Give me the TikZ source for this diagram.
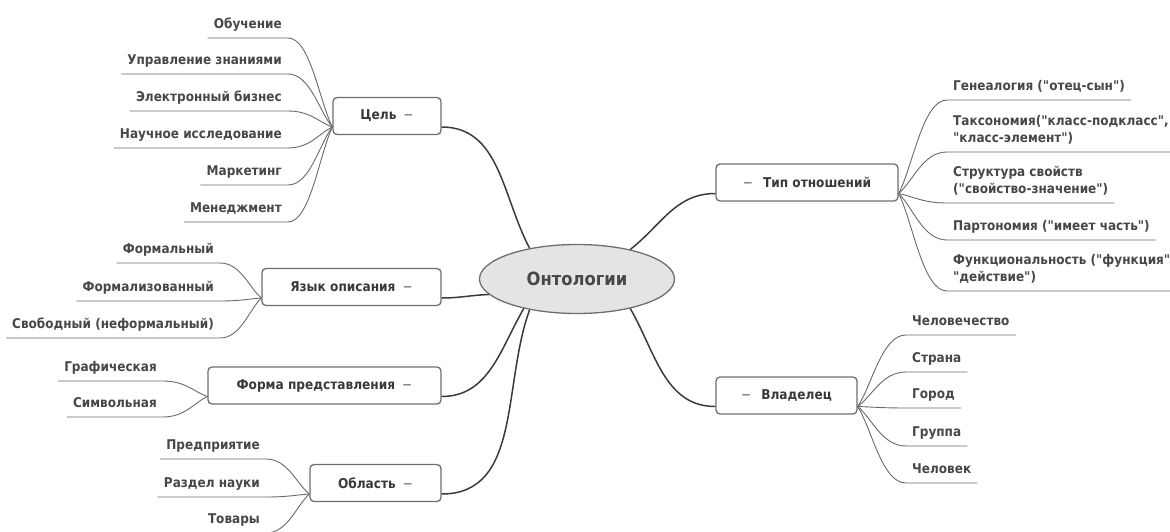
\documentclass[tikz,border=0pt]{standalone}
\usepackage{fontspec}
\setmainfont{DejaVu Sans Condensed}[Ligatures=TeXOff]
\usetikzlibrary{calc,shapes.geometric}

\definecolor{inkc}{HTML}{474747}
\definecolor{linec}{HTML}{3A3A3A}
\definecolor{twigc}{HTML}{6A6A6A}
\definecolor{boxc}{HTML}{6E6E6E}
\definecolor{rootc}{HTML}{E4E4E4}
\definecolor{foldc}{HTML}{8C8C8C}

\newcommand{\fold}{\textcolor{foldc}{−}}

\tikzset{
  root/.style={ellipse, draw=boxc, line width=1.3pt, fill=rootc, minimum width=195pt,
    minimum height=69pt, inner sep=0pt, text=inkc, font=\bfseries\fontsize{18.2}{21}\selectfont},
  topic/.style={draw=boxc, line width=1.3pt, rounded corners=4pt, fill=white, minimum height=37pt,
    inner sep=0pt, text=inkc!80!black, font=\bfseries\fontsize{13.5}{16}\selectfont},
  leaf/.style={inner xsep=6pt, inner ysep=9pt, text depth=0pt, text=inkc,
    font=\bfseries\fontsize{13.4}{17}\selectfont, align=left},
  leafl/.style={leaf, anchor=south east},
  leafr/.style={leaf, anchor=south west},
  trunk/.style={draw=linec, line width=1.5pt},
  twig/.style={draw=twigc, line width=0.9pt,
    to path={.. controls ($(\tikztostart)!0.3!(\tikztotarget)$) and
      ($(\tikztotarget)!0.5!(\tikztostart |- \tikztotarget)$) .. (\tikztotarget) \tikztonodes}},
}

\begin{document}
\begin{tikzpicture}[x=1pt,y=-1pt]
  \useasboundingbox (0,0) rectangle (1170,532);

  % main topic and branches
  \node[root] (onto) at (577,279) {Онтологии};

  \node[topic, minimum width=108pt] (aim)  at (387,116)   {Цель\hspace{7pt}\fold};
  \node[topic, minimum width=179pt] (lang) at (351.5,287) {Язык описания\hspace{7pt}\fold};
  \node[topic, minimum width=233pt] (form) at (324.5,385.5) {Форма представления\hspace{7pt}\fold};
  \node[topic, minimum width=131pt] (area) at (375.5,483) {Область\hspace{7pt}\fold};
  \node[topic, minimum width=182pt] (rel)  at (807,182.5) {\fold\hspace{10pt}Тип отношений};
  \node[topic, minimum width=141pt] (own)  at (786.5,395.5) {\fold\hspace{10pt}Владелец};

  \draw[trunk] (onto.147) to[out=118,in=0]   ([yshift=-11pt]aim.east);
  \draw[trunk] (onto.190) to[out=182,in=0]   ([yshift=-11pt]lang.east);
  \draw[trunk] (onto.209) to[out=240,in=0]   ([yshift=-11pt]form.east);
  \draw[trunk] (onto.213) to[out=250,in=0]   ([yshift=-11pt]area.east);
  \draw[trunk] (onto.29)  to[out=38,in=180]  ([yshift=-11pt]rel.west);
  \draw[trunk] (onto.331) to[out=300,in=180] ([yshift=-11pt]own.west);

  % Цель
  \node[leafl] (aim1) at (288,38)  {Обучение};
  \node[leafl] (aim2) at (288,74)  {Управление знаниями};
  \node[leafl] (aim3) at (288,111) {Электронный бизнес};
  \node[leafl] (aim4) at (288,148) {Научное исследование};
  \node[leafl] (aim5) at (288,185) {Маркетинг};
  \node[leafl] (aim6) at (288,222) {Менеджмент};
  \draw[twig] ([yshift=-11pt]aim.west) to (aim1.south east) -- (aim1.south west);
  \draw[twig] ([yshift=-11pt]aim.west) to (aim2.south east) -- (aim2.south west);
  \draw[twig] ([yshift=-11pt]aim.west) to (aim3.south east) -- (aim3.south west);
  \draw[twig] ([yshift=-11pt]aim.west) to (aim4.south east) -- (aim4.south west);
  \draw[twig] ([yshift=-11pt]aim.west) to (aim5.south east) -- (aim5.south west);
  \draw[twig] ([yshift=-11pt]aim.west) to (aim6.south east) -- (aim6.south west);

  % Язык описания
  \node[leafl] (lang1) at (220,263) {Формальный};
  \node[leafl] (lang2) at (220,301) {Формализованный};
  \node[leafl] (lang3) at (220,338) {Свободный (неформальный)};
  \draw[twig] ([yshift=-11pt]lang.west) to (lang1.south east) -- (lang1.south west);
  \draw[twig] ([yshift=-11pt]lang.west) to (lang2.south east) -- (lang2.south west);
  \draw[twig] ([yshift=-11pt]lang.west) to (lang3.south east) -- (lang3.south west);

  % Форма представления
  \node[leafl] (form1) at (163,381) {Графическая};
  \node[leafl] (form2) at (163,417) {Символьная};
  \draw[twig] ([yshift=-11pt]form.west) to (form1.south east) -- (form1.south west);
  \draw[twig] ([yshift=-11pt]form.west) to (form2.south east) -- (form2.south west);

  % Область
  \node[leafl] (area1) at (266,459) {Предприятие};
  \node[leafl] (area2) at (266,497) {Раздел науки};
  \node[leafl] (area3) at (266,533) {Товары};
  \draw[twig] ([yshift=-11pt]area.west) to (area1.south east) -- (area1.south west);
  \draw[twig] ([yshift=-11pt]area.west) to (area2.south east) -- (area2.south west);
  \draw[twig] ([yshift=-11pt]area.west) to (area3.south east) -- (area3.south west);

  % Тип отношений
  \node[leafr] (rel1) at (947,100) {Генеалогия ("отец-сын")};
  \node[leafr] (rel2) at (947,152) {Таксономия("класс-подкласс",\\"класс-элемент")};
  \node[leafr] (rel3) at (947,203) {Структура свойств\\("свойство-значение")};
  \node[leafr] (rel4) at (947,240) {Партономия ("имеет часть")};
  \node[leafr] (rel5) at (947,291) {Функциональность ("функция",\\"действие")};
  \draw[twig] ([yshift=-11pt]rel.east) to (rel1.south west) -- (rel1.south east);
  \draw[twig] ([yshift=-11pt]rel.east) to (rel2.south west) -- (rel2.south east);
  \draw[twig] ([yshift=-11pt]rel.east) to (rel3.south west) -- (rel3.south east);
  \draw[twig] ([yshift=-11pt]rel.east) to (rel4.south west) -- (rel4.south east);
  \draw[twig] ([yshift=-11pt]rel.east) to (rel5.south west) -- (rel5.south east);

  % Владелец
  \node[leafr] (own1) at (906,335) {Человечество};
  \node[leafr] (own2) at (906,372) {Страна};
  \node[leafr] (own3) at (906,408) {Город};
  \node[leafr] (own4) at (906,446) {Группа};
  \node[leafr] (own5) at (906,483) {Человек};
  \draw[twig] ([yshift=-11pt]own.east) to (own1.south west) -- (own1.south east);
  \draw[twig] ([yshift=-11pt]own.east) to (own2.south west) -- (own2.south east);
  \draw[twig] ([yshift=-11pt]own.east) to (own3.south west) -- (own3.south east);
  \draw[twig] ([yshift=-11pt]own.east) to (own4.south west) -- (own4.south east);
  \draw[twig] ([yshift=-11pt]own.east) to (own5.south west) -- (own5.south east);
\end{tikzpicture}
\end{document}
